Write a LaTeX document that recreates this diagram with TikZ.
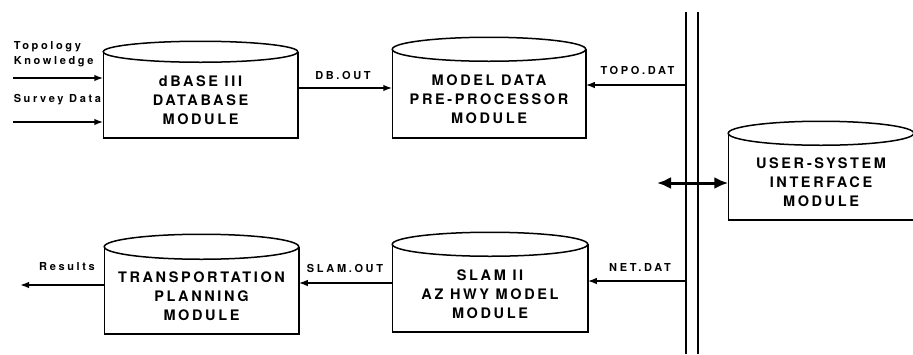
\documentclass[tikz,border=0pt]{standalone}
\usepackage{fontspec}
\setmainfont{TeX Gyre Heros}
\newfontfamily\boxfont[LetterSpace=18]{TeX Gyre Heros Bold}
\newfontfamily\labfont[LetterSpace=24]{TeX Gyre Heros Bold}
\usetikzlibrary{arrows.meta,calc}
\begin{document}
\begin{tikzpicture}[x=1pt,y=-1pt,
  line width=1.5pt, line cap=butt,
  body/.style={minimum width=#1, inner sep=0pt, align=center,
    font=\boxfont\fontsize{14.5}{19}\selectfont},
  lab/.style={inner sep=0pt, font=\labfont\fontsize{11}{13}\selectfont},
  arr/.style={-{Latex[length=9pt,width=6.5pt]}},
  dbl/.style={{Latex[length=14pt,width=12pt]}-{Latex[length=14pt,width=12pt]}, line width=3pt}]
\useasboundingbox (0,0) rectangle (913,354);

% module bodies (region below the top ellipse)
\node[body=193pt, minimum height=74pt] (db)    at (200.5,100)  {dBASE III\\DATABASE\\MODULE};
\node[body=192pt, minimum height=75pt] (model) at (489,99.5)   {MODEL DATA\\PRE-PROCESSOR\\MODULE};
\node[body=184pt, minimum height=73pt] (user)  at (821,182.5)  {USER-SYSTEM\\INTERFACE\\MODULE};
\node[body=194pt, minimum height=74pt] (slam)  at (490,294)    {SLAM II\\AZ HWY MODEL\\MODULE};
\node[body=193pt, minimum height=73pt] (trans) at (201.5,296.5) {TRANSPORTATION\\PLANNING\\MODULE};

% drum outlines: top ellipse, straight sides, flat bottom
\foreach \m/\ry in {db/10.5, model/12, user/12, slam/12, trans/12.5}{
  \draw (\m.north west) ++(0,-\ry) coordinate (\m-tl)
        -- (\m.south west) -- (\m.south east) -- (\m.north east |- \m-tl);
  \draw let \p1=(\m.north west), \p2=(\m.north east) in
        (\m.north) ++(0,-\ry)
        ellipse [x radius={0.5*(\x2-\x1)}, y radius=\ry pt];
}

% two-line bus
\coordinate (busLtop) at (686,12);  \coordinate (busLbot) at (686,354);
\coordinate (busRtop) at (698,12);  \coordinate (busRbot) at (698,354);
\draw (busLtop) -- (busLbot);
\draw (busRtop) -- (busRbot);

% level coordinates for the connectors
\coordinate (yTopo)  at (0,78);
\coordinate (ySurv)  at (0,122);
\coordinate (yDb)    at (0,88);
\coordinate (yTdat)  at (0,85);
\coordinate (yUser)  at (0,183);
\coordinate (yNet)   at (0,281);
\coordinate (ySlam)  at (0,283);
\coordinate (yRes)   at (0,285);
\coordinate (inTopo) at (13,78);
\coordinate (inSurv) at (13,122);
\coordinate (outRes) at (20,285);
\coordinate (uiEnd)  at (657,183);

% connectors
\draw[arr] (inTopo) -- (db.west |- yTopo);
\draw[arr] (inSurv) -- (db.west |- ySurv);
\draw[arr] (db.east |- yDb) -- (model.west |- yDb);
\draw[arr] (busLtop |- yTdat) -- (model.east |- yTdat);
\draw[arr] (busLtop |- yNet) -- (slam.east |- yNet);
\draw[arr] (slam.west |- ySlam) -- (trans.east |- ySlam);
\draw[arr] (trans.west |- yRes) -- (outRes);
\draw[dbl] (uiEnd) -- (user.west |- yUser);

% labels
\node[lab, anchor=west] (lTopo) at (13,47) {Topology};
\node[lab, anchor=west] (lKnow) at (13,62) {Knowledge};
\node[lab, anchor=west] (lSurv) at (13,100) {Survey Data};
\node[lab] (lDb)   at (343,75)   {DB.OUT};
\node[lab] (lTd)   at (637.5,70) {TOPO.DAT};
\node[lab] (lNet)  at (640,267)  {NET.DAT};
\node[lab] (lSl)   at (345,268)  {SLAM.OUT};
\node[lab] (lRes)  at (67,267)   {Results};
\end{tikzpicture}
\end{document}
